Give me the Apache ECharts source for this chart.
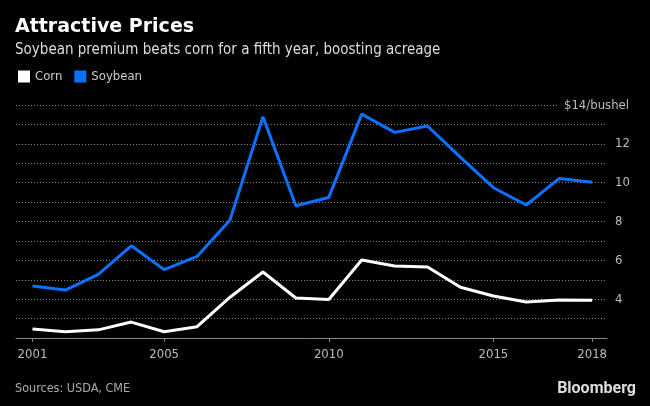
<!DOCTYPE html>
<html><head><meta charset="utf-8">
<script src="https://cdn.jsdelivr.net/npm/echarts@6/dist/echarts.min.js"></script>
<style>html,body{margin:0;padding:0;background:#000}#c{width:650px;height:406px}</style>
</head><body><div id="c"></div>
<script>
const years = [2001,2002,2003,2004,2005,2006,2007,2008,2009,2010,2011,2012,2013,2014,2015,2016,2017,2018];
const corn = [2.46,2.32,2.42,2.82,2.32,2.58,4.1,5.40,4.06,3.98,6.02,5.71,5.66,4.61,4.16,3.85,3.96,3.94];
const soybean = [4.68,4.47,5.28,6.75,5.52,6.2,8.08,13.4,8.81,9.24,13.53,12.59,12.92,11.3,9.74,8.85,10.22,10.02];
const xTickLabels = [2001,2005,2010,2015,2018];
const yTickLabels = [4,6,8,10,12];

const COND = "'DejaVu Sans Condensed','DejaVu Sans',sans-serif";
const chart = echarts.init(document.getElementById('c'));
chart.setOption({
  backgroundColor:'#000',
  animation:false,
  title:[
    {text:'Attractive Prices',left:15,top:18,padding:0,textStyle:{color:'#fff',fontSize:19,fontWeight:'bold',fontFamily:"'DejaVu Sans',sans-serif"}},
    {text:'Soybean premium beats corn for a fifth year, boosting acreage',left:15,top:43,padding:0,textStyle:{color:'#ddd',fontSize:15,fontWeight:'normal',fontFamily:COND}},
    {text:'Sources: USDA, CME',left:15,top:382,padding:0,textStyle:{color:'#aaa',fontSize:12.5,fontWeight:'normal',fontFamily:COND}},
    {text:'Bloomberg',right:14,top:381,padding:0,textStyle:{color:'#ddd',fontSize:16,fontWeight:'bold',fontFamily:"Roboto,'Liberation Sans',sans-serif"}}
  ],
  legend:{left:18,top:70,padding:0,icon:'rect',itemWidth:12,itemHeight:12,itemGap:12,
    textStyle:{color:'#ccc',fontSize:13,fontFamily:COND},
    data:['Corn','Soybean']},
  grid:{left:16,right:43,top:105,bottom:68},
  xAxis:{type:'value',min:2000.5,max:2018.45,
    axisLine:{show:true,lineStyle:{color:'#888',width:1}},
    axisTick:{show:true,customValues:xTickLabels,length:4,lineStyle:{color:'#888'}},
    axisLabel:{customValues:xTickLabels,color:'#bbb',fontSize:13,fontFamily:COND,margin:10,formatter:v=>String(v)},
    splitLine:{show:false}},
  yAxis:{type:'value',position:'right',min:2,max:14,interval:1,
    axisLine:{show:false},axisTick:{show:false},
    axisLabel:{color:'#bbb',fontSize:13,fontFamily:COND,margin:8,
      formatter:v=>yTickLabels.indexOf(v)>=0?String(v):''},
    splitLine:{show:true,lineStyle:{color:'#888',type:[1,2],width:1}}},
  graphic:[{type:'text',right:21,top:97,z:100,
    style:{text:'$14/bushel',fill:'#bbb',fontSize:13,fontFamily:COND,backgroundColor:'#000',padding:[2,0,2,6]}}],
  series:[
    {name:'Corn',type:'line',data:years.map((y,i)=>[y,corn[i]]),showSymbol:false,color:'#fff',
      lineStyle:{color:'#fff',width:3},z:3},
    {name:'Soybean',type:'line',data:years.map((y,i)=>[y,soybean[i]]),showSymbol:false,color:'#0a72ff',
      lineStyle:{color:'#0a72ff',width:3},z:2}
  ]
});
</script></body></html>
